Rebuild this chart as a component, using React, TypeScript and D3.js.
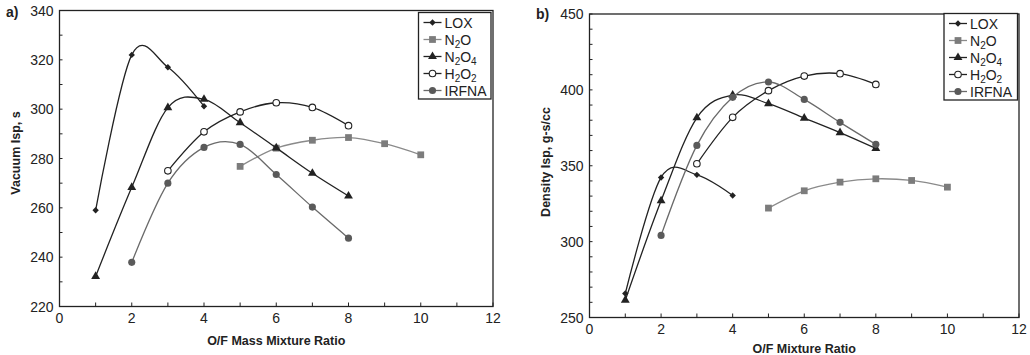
import React, { useEffect, useRef } from 'react';
import * as d3 from 'd3';

// O/F ratios per propellant
const loxX = [1, 2, 3, 4];
const n2oX = [5, 6, 7, 8, 9, 10];
const n2o4X = [1, 2, 3, 4, 5, 6, 7, 8];
const h2o2X = [3, 4, 5, 6, 7, 8];
const irfnaX = [2, 3, 4, 5, 6, 7, 8];

// a) Vacuum Isp, s
const vacLox = [259, 322, 317, 301.2];
const vacN2o = [276.8, 284.2, 287.4, 288.5, 286, 281.5];
const vacN2o4 = [232.2, 268.3, 300.6, 304, 294.5, 284.3, 274, 264.8];
const vacH2o2 = [275, 290.8, 298.9, 302.6, 300.7, 293.3];
const vacIrfna = [237.9, 270, 284.5, 285.7, 273.5, 260.3, 247.7];

// b) Density Isp, g-s/cc
const denLox = [265.8, 342.3, 344, 330.4];
const denN2o = [322.1, 333.5, 339.2, 341.4, 340.3, 335.9];
const denN2o4 = [261.4, 326.9, 381.6, 396.6, 390.9, 381.4, 371.8, 361.4];
const denH2o2 = [351.3, 381.9, 399.5, 409.1, 410.7, 403.6];
const denIrfna = [304.1, 363.4, 395.1, 405.2, 393.7, 378.6, 364.1];

const xTicks = [0, 2, 4, 6, 8, 10, 12];
const vacTicks = [220, 240, 260, 280, 300, 320, 340];
const denTicks = [250, 300, 350, 400, 450];

const names = ['LOX', 'N2O', 'N2O4', 'H2O2', 'IRFNA'];

const FONT = '"Liberation Sans", Arial, sans-serif';
const INK = '#222';

const styles = [
  { line: INK, fill: INK, stroke: 'none', sym: d3.symbolDiamond2, size: 26 },
  { line: '#8a8a8a', fill: '#7c7c7c', stroke: 'none', sym: d3.symbolSquare, size: 46 },
  { line: INK, fill: INK, stroke: 'none', sym: d3.symbolTriangle, size: 34 },
  { line: INK, fill: '#fff', stroke: INK, sym: d3.symbolCircle, size: 34 },
  { line: '#6a6a6a', fill: '#5a5a5a', stroke: 'none', sym: d3.symbolCircle, size: 40 },
];

const Label = ({ name }: { name: string }) => {
  // chemical formula with subscripts
  const parts = name.match(/[A-Z]+|\d+/g) || [];
  let down = false;
  return (
    <>
      {parts.map((p, i) => {
        const isNum = /\d/.test(p);
        const dy = isNum && !down ? 3.5 : !isNum && down ? -3.5 : 0;
        down = isNum;
        return (
          <tspan key={i} dy={dy} fontSize={isNum ? 10 : 14}>
            {p}
          </tspan>
        );
      })}
    </>
  );
};

const Panel = ({ xs, ys, yDomain, yTicks, left, right, top, bottom, yTitle, xTitle, tag, legend }) => {
  const x = d3.scaleLinear().domain([0, 12]).range([left, right]);
  const y = d3.scaleLinear().domain(yDomain).range([bottom, top]);
  const line = d3
    .line<[number, number]>()
    .x((d) => x(d[0]))
    .y((d) => y(d[1]))
    .curve(d3.curveCatmullRom.alpha(0));
  const minorY = d3.range(yDomain[0], yDomain[1] + 1, 10);
  const minorX = d3.range(0, 13, 1);
  return (
    <g>
      <text x={tag.x} y={tag.y} fontFamily={FONT} fontWeight="bold" fontSize={14} fill={INK}>
        {tag.t}
      </text>
      <rect x={left} y={top} width={right - left} height={bottom - top} fill="none" stroke={INK} strokeWidth={1.3} />
      {minorX.map((v) => (
        <line key={'mx' + v} x1={x(v)} x2={x(v)} y1={bottom} y2={bottom - 4} stroke={INK} strokeWidth={1} />
      ))}
      {minorY.map((v) => (
        <line key={'my' + v} x1={left} x2={left + 3} y1={y(v)} y2={y(v)} stroke={INK} strokeWidth={1} />
      ))}
      {xTicks.map((v) => (
        <text key={'xt' + v} x={x(v)} y={bottom + 16} textAnchor="middle" fontFamily={FONT} fontSize={14} fill={INK}>
          {v}
        </text>
      ))}
      {yTicks.map((v) => (
        <text key={'yt' + v} x={left - 6} y={y(v)} dy="0.36em" textAnchor="end" fontFamily={FONT} fontSize={14} fill={INK}>
          {v}
        </text>
      ))}
      <text x={(left + right) / 2 + xTitle.dx} y={xTitle.y} textAnchor="middle" fontFamily={FONT} fontWeight="bold" fontSize={12.5} fill={INK}>
        {xTitle.t}
      </text>
      <text
        transform={`translate(${yTitle.x},${yTitle.cy}) rotate(-90)`}
        textAnchor="middle"
        fontFamily={FONT}
        fontWeight="bold"
        fontSize={12.5}
        fill={INK}
      >
        {yTitle.t}
      </text>
      {xs.map((xv, i) => {
        const pts = xv.map((v, j) => [v, ys[i][j]] as [number, number]);
        const st = styles[i];
        return (
          <g key={'s' + i}>
            <path d={line(pts) || ''} fill="none" stroke={st.line} strokeWidth={1.3} />
            {pts.map((p, j) => (
              <path
                key={j}
                transform={`translate(${x(p[0])},${y(p[1])})`}
                d={d3.symbol(st.sym, st.size)() || ''}
                fill={st.fill}
                stroke={st.stroke}
                strokeWidth={1.1}
              />
            ))}
          </g>
        );
      })}
      <rect x={legend.x0} y={legend.y0} width={legend.x1 - legend.x0} height={legend.y1 - legend.y0} fill="#fff" stroke={INK} strokeWidth={1.3} />
      {names.map((n, i) => {
        const st = styles[i];
        const cy = legend.y0 + 10 + i * legend.step;
        const lx = legend.x0 + 5;
        return (
          <g key={'l' + n}>
            <line x1={lx} x2={lx + 18} y1={cy} y2={cy} stroke={st.line} strokeWidth={1.3} />
            <path transform={`translate(${lx + 9},${cy})`} d={d3.symbol(st.sym, st.size)() || ''} fill={st.fill} stroke={st.stroke} strokeWidth={1.1} />
            <text x={lx + 21} y={cy + 5} fontFamily={FONT} fontSize={14} fill={INK}>
              <Label name={n} />
            </text>
          </g>
        );
      })}
    </g>
  );
};

export default function App() {
  const ref = useRef<SVGSVGElement>(null);
  useEffect(() => {
    document.body.style.margin = '0';
  }, []);
  const xs = [loxX, n2oX, n2o4X, h2o2X, irfnaX];
  return (
    <svg ref={ref} width={1030} height={355} style={{ display: 'block', background: '#fff' }}>
      <Panel
        xs={xs}
        ys={[vacLox, vacN2o, vacN2o4, vacH2o2, vacIrfna]}
        yDomain={[220, 340]}
        yTicks={vacTicks}
        left={59.5}
        right={493}
        top={10.5}
        bottom={306.5}
        tag={{ t: 'a)', x: 6, y: 17 }}
        xTitle={{ t: 'O/F Mass Mixture Ratio', y: 345, dx: 0 }}
        yTitle={{ t: 'Vacuum Isp, s', x: 20, cy: 153 }}
        legend={{ x0: 418.5, x1: 491, y0: 12.5, y1: 99, step: 17 }}
      />
      <Panel
        xs={xs}
        ys={[denLox, denN2o, denN2o4, denH2o2, denIrfna]}
        yDomain={[250, 450]}
        yTicks={denTicks}
        left={589.5}
        right={1019}
        top={14}
        bottom={317.5}
        tag={{ t: 'b)', x: 536, y: 19 }}
        xTitle={{ t: 'O/F Mixture Ratio', y: 353, dx: 0 }}
        yTitle={{ t: 'Density Isp, g-s/cc', x: 550, cy: 162 }}
        legend={{ x0: 944, x1: 1017.5, y0: 13.5, y1: 100, step: 17 }}
      />
    </svg>
  );
}
